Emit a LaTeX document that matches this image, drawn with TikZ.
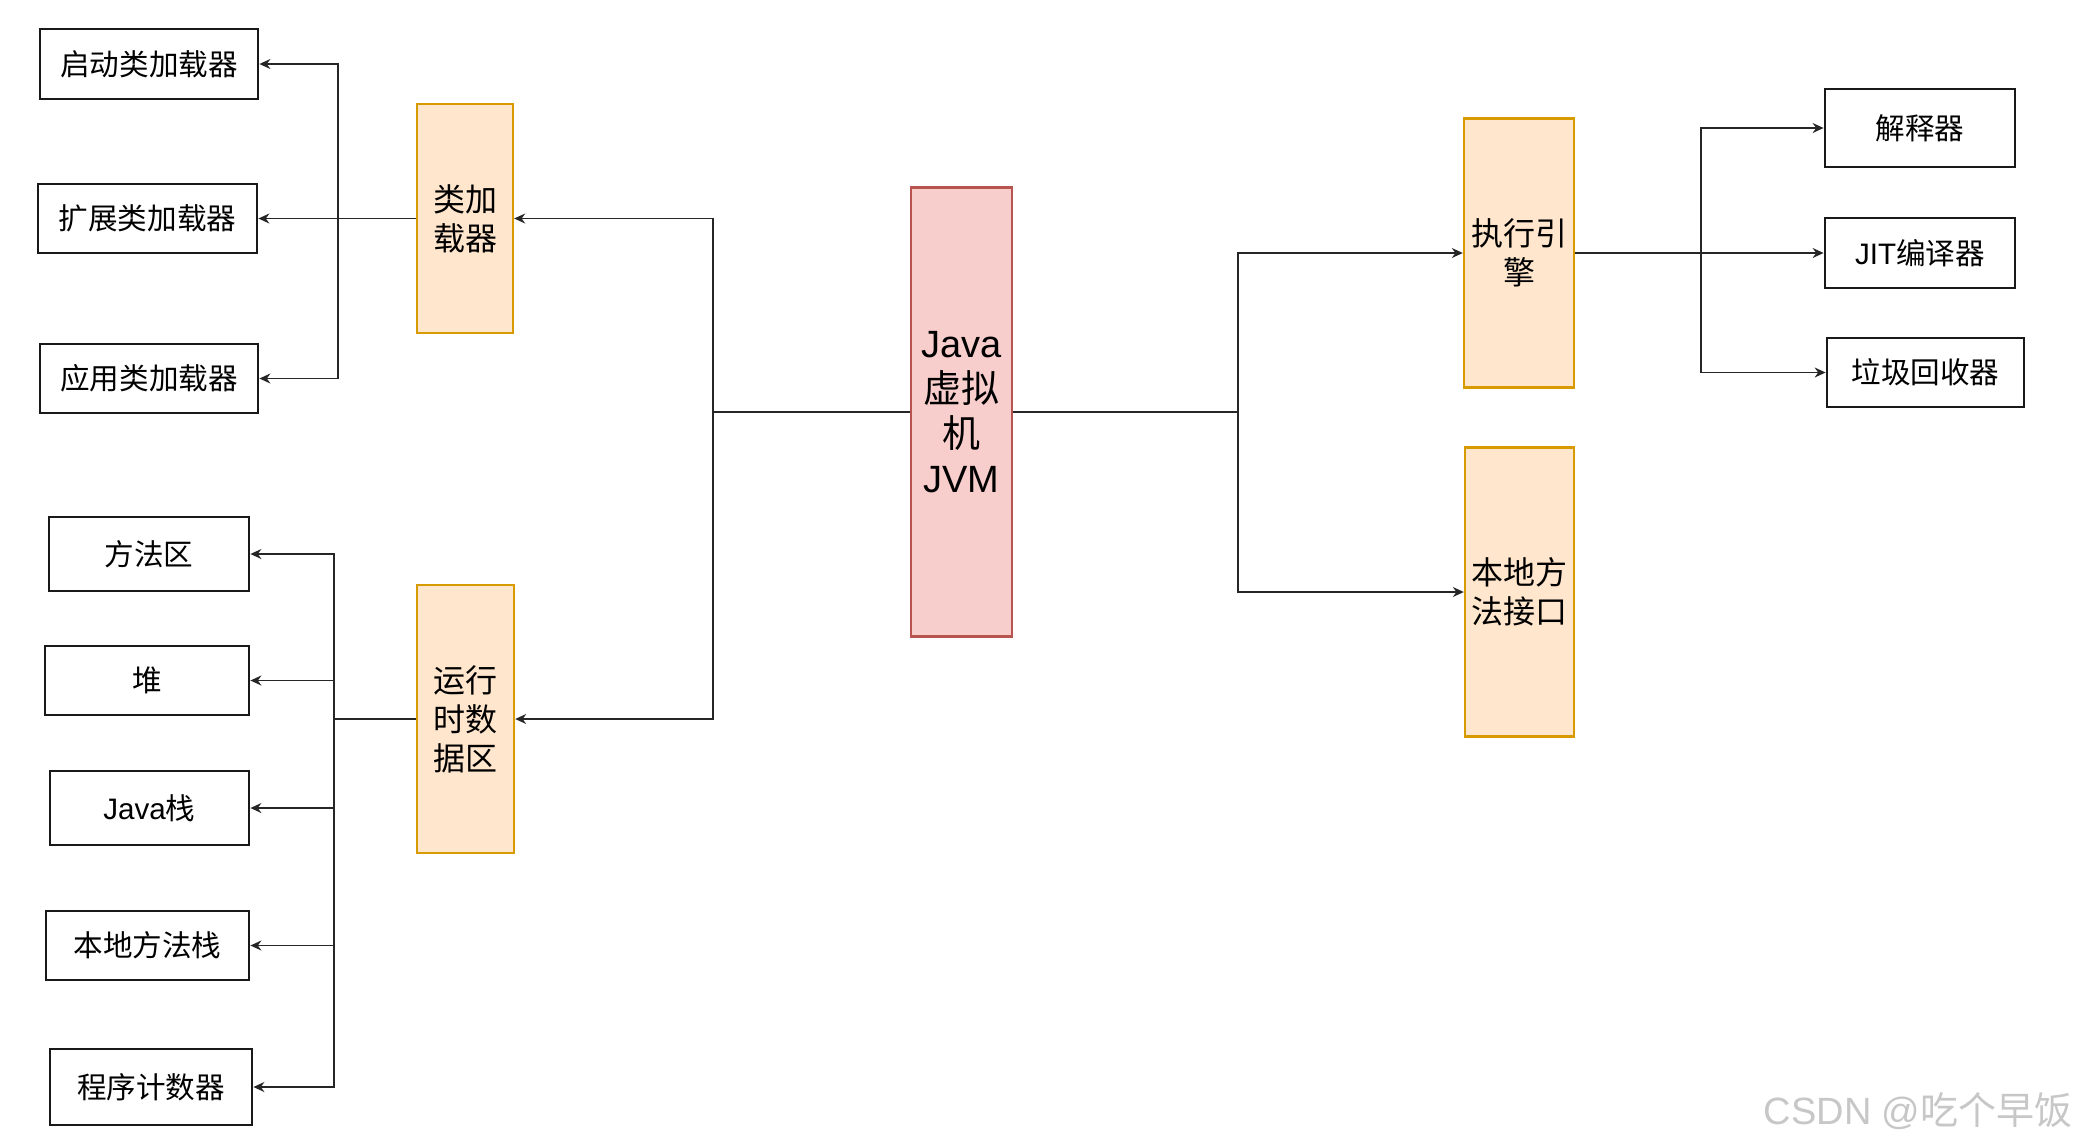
\documentclass[tikz,border=0pt]{standalone}
\usepackage{fontspec}
\setmainfont{Liberation Sans}
\newfontfamily\cjk{Noto Sans CJK SC}
\usetikzlibrary{arrows.meta}
\definecolor{orfill}{HTML}{FFE6CC}
\definecolor{ordraw}{HTML}{D79B00}
\definecolor{rdfill}{HTML}{F8CECC}
\definecolor{rddraw}{HTML}{B85450}
\tikzset{
  wbox/.style={draw=black!90, line width=1.4pt, fill=white, inner sep=0pt, align=center, font=\cjk\fontsize{14.8}{18}\selectfont},
  obox/.style={draw=ordraw, fill=orfill, line width=1.2pt, inner sep=0pt, align=center, font=\cjk\fontsize{16}{19.5}\selectfont},
  rbox/.style={draw=rddraw, fill=rdfill, line width=1.2pt, inner sep=0pt, align=center, font=\fontsize{19}{22.5}\selectfont},
  conn/.style={line width=0.75pt, draw=black!85},
  arr/.style={conn, -{Stealth[length=5.5pt,width=5pt,inset=1.8pt]}},
}
\begin{document}
\begin{tikzpicture}[x=0.5pt,y=-0.5pt]
\useasboundingbox (0,0) rectangle (2077,1147);
% left top group
\node[wbox, minimum width=109pt, minimum height=35pt] (boot) at (149,64) {启动类加载器};
\node[wbox, minimum width=109.5pt, minimum height=34.5pt] (ext) at (147.5,218.5) {扩展类加载器};
\node[wbox, minimum width=109pt, minimum height=34.5pt] (app) at (149,378.5) {应用类加载器};
\node[obox, minimum width=48pt, minimum height=114.5pt] (cl) at (465,218.5) {类加\\载器};
% left bottom group
\node[wbox, minimum width=100pt, minimum height=37pt] (ma) at (149,554) {方法区};
\node[wbox, minimum width=102pt, minimum height=34.5pt] (heap) at (147,680.5) {堆};
\node[wbox, minimum width=99.5pt, minimum height=37pt] (jst) at (149.5,808) {{\rmfamily Java}栈};
\node[wbox, minimum width=101.5pt, minimum height=34.5pt] (nst) at (147.5,945.5) {本地方法栈};
\node[wbox, minimum width=101pt, minimum height=38pt] (pc) at (151,1087) {程序计数器};
\node[obox, minimum width=48.5pt, minimum height=134pt] (rt) at (465.5,719) {运行\\时数\\据区};
% center
\node[rbox, minimum width=50.5pt, minimum height=224.5pt] (jvm) at (961.5,412) {Java\\{\cjk 虚拟}\\{\cjk 机}\\JVM};
% right
\node[obox, minimum width=55pt, minimum height=134.5pt] (exec) at (1519,253) {执行引\\擎};
\node[obox, minimum width=54.5pt, minimum height=144.5pt] (nat) at (1519.5,592) {本地方\\法接口};
\node[wbox, minimum width=95pt, minimum height=39pt] (interp) at (1920,128) {解释器};
\node[wbox, minimum width=95pt, minimum height=35pt] (jit) at (1920,253) {{\rmfamily JIT}编译器};
\node[wbox, minimum width=98.5pt, minimum height=34.5pt] (gc) at (1925.5,372.5) {垃圾回收器};
% bus coordinates
\coordinate (bA) at (338,218.5);
\coordinate (bB) at (334,719);
\coordinate (jl) at (713,412);
\coordinate (jr) at (1238,412);
\coordinate (rb) at (1701,253);
% connectors: JVM to subsystems
\draw[arr] (jvm.west) -- (jl) |- (cl.east);
\draw[arr] (jl) |- (rt.east);
\draw[conn] (jvm.east) -- (jr);
\draw[arr] (jr) |- (exec.west);
\draw[arr] (jr) |- (nat.west);
% class loader
\draw[arr] (cl.west) -- (ext.east);
\draw[arr] (cl.west) -- (bA) |- (boot.east);
\draw[arr] (bA) |- (app.east);
% runtime data area
\draw[conn] (rt.west) -- (bB);
\draw[arr] (bB) |- (ma.east);
\draw[arr] (bB) |- (heap.east);
\draw[arr] (bB) |- (jst.east);
\draw[arr] (bB) |- (nst.east);
\draw[arr] (bB) |- (pc.east);
% execution engine
\draw[arr] (exec.east) -- (jit.west);
\draw[arr] (rb) |- (interp.west);
\draw[arr] (rb) |- (gc.west);
% watermark
\node[anchor=east, text=black!22, font=\fontsize{19}{22}\selectfont, inner sep=0pt] (wm) at (2073,1111) {CSDN @{\cjk 吃个早饭}};
\end{tikzpicture}
\end{document}
